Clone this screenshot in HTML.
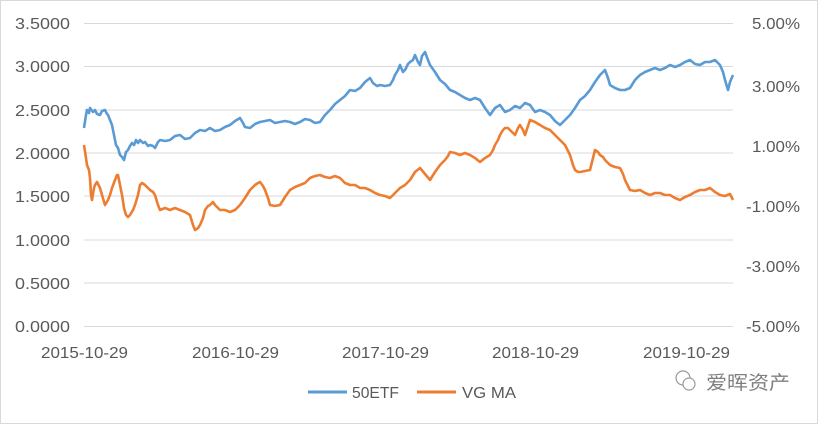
<!DOCTYPE html>
<html><head><meta charset="utf-8"><style>
body{margin:0;background:#fff}
svg{display:block}
text{font-family:"Liberation Sans","Noto Sans CJK SC",sans-serif;fill:#595959;font-size:16px}
</style></head><body>
<svg width="818" height="424" viewBox="0 0 818 424">
<rect x="0.5" y="0.5" width="817" height="423" fill="#fff" stroke="#d9d9d9"/>
<g stroke="#d9d9d9" stroke-width="1">
<line x1="84" x2="733" y1="23.5" y2="23.5"/><line x1="84" x2="733" y1="66.5" y2="66.5"/>
<line x1="84" x2="733" y1="110" y2="110"/><line x1="84" x2="733" y1="153" y2="153"/>
<line x1="84" x2="733" y1="196" y2="196"/><line x1="84" x2="733" y1="240" y2="240"/>
<line x1="84" x2="733" y1="283" y2="283"/><line x1="84" x2="733" y1="326.5" y2="326.5"/>
</g>
<g>
<text x="15" y="29" textLength="55" lengthAdjust="spacingAndGlyphs">3.5000</text><text x="15" y="72" textLength="55" lengthAdjust="spacingAndGlyphs">3.0000</text><text x="15" y="116" textLength="55" lengthAdjust="spacingAndGlyphs">2.5000</text>
<text x="15" y="159" textLength="55" lengthAdjust="spacingAndGlyphs">2.0000</text><text x="15" y="202" textLength="55" lengthAdjust="spacingAndGlyphs">1.5000</text><text x="15" y="246" textLength="55" lengthAdjust="spacingAndGlyphs">1.0000</text>
<text x="15" y="289" textLength="55" lengthAdjust="spacingAndGlyphs">0.5000</text><text x="15" y="332" textLength="55" lengthAdjust="spacingAndGlyphs">0.0000</text>
</g>
<g>
<text x="752" y="29" textLength="48" lengthAdjust="spacingAndGlyphs">5.00%</text><text x="752" y="92" textLength="48" lengthAdjust="spacingAndGlyphs">3.00%</text><text x="752" y="152" textLength="48" lengthAdjust="spacingAndGlyphs">1.00%</text>
<text x="746" y="212" textLength="54" lengthAdjust="spacingAndGlyphs">-1.00%</text><text x="746" y="272" textLength="54" lengthAdjust="spacingAndGlyphs">-3.00%</text><text x="746" y="332" textLength="54" lengthAdjust="spacingAndGlyphs">-5.00%</text>
</g>
<g>
<text x="41" y="358" textLength="87" lengthAdjust="spacingAndGlyphs">2015-10-29</text><text x="192" y="358" textLength="87" lengthAdjust="spacingAndGlyphs">2016-10-29</text><text x="342" y="358" textLength="87" lengthAdjust="spacingAndGlyphs">2017-10-29</text>
<text x="492" y="358" textLength="87" lengthAdjust="spacingAndGlyphs">2018-10-29</text><text x="643" y="358" textLength="87" lengthAdjust="spacingAndGlyphs">2019-10-29</text>
</g>
<polyline fill="none" stroke="#5b9bd5" stroke-width="2.6" stroke-linejoin="round" points="84,128 86,115 87,110 89,113 90,108 93,112 95,110 97,114 100,115 102,111 105,110 107,114 108,115 110,120 112,125 114,135 116,145 118,148 120,155 122,157 124,160 126,152 128,150 130,146 132,143 134,145 136,140 138,143 140,140 143,143 145,142 148,146 150,145 153,146 155,148 158,142 160,140 165,141 170,140 175,136 180,135 185,139 190,138 195,133 200,130 205,131 210,128 215,131 220,130 225,127 230,125 235,121 240,118 243,123 245,127 250,128 255,124 260,122 265,121 270,120 275,123 280,122 285,121 290,122 295,124 300,122 305,119 310,120 315,123 320,122 325,115 330,110 335,104 340,100 345,96 350,90 355,91 360,88 365,82 370,78 373,83 377,86 380,85 385,86 390,85 393,80 395,75 398,70 400,65 403,72 405,70 408,64 410,62 413,60 415,55 418,62 420,65 422,56 425,52 428,60 430,65 435,72 440,80 445,84 450,90 455,92 460,95 465,98 470,100 475,98 480,100 485,108 490,115 495,108 500,105 505,112 510,110 515,106 520,108 525,103 530,105 535,112 540,110 545,112 550,115 555,121 560,125 565,120 570,115 575,108 580,100 585,96 590,90 595,82 600,75 603,72 605,70 608,78 610,85 615,88 620,90 625,90 630,88 635,80 640,75 645,72 650,70 655,68 660,70 665,68 670,65 675,67 680,65 685,62 690,60 695,64 700,65 705,62 710,62 715,60 720,65 723,72 725,80 728,90 730,82 733,75"/>
<polyline fill="none" stroke="#ed7d31" stroke-width="2.6" stroke-linejoin="round" points="84,145 86,158 87,165 89,170 90,178 91,195 92,200 94,188 95,185 97,182 100,188 102,195 105,205 108,200 110,195 112,188 115,180 117,175 118,175 120,185 122,195 124,208 126,215 128,217 130,215 133,210 135,205 138,195 140,185 142,183 145,185 148,188 150,190 153,192 155,195 158,205 160,210 165,208 170,210 175,208 180,210 185,212 190,215 193,225 195,230 198,228 200,225 203,218 205,210 208,206 210,205 213,202 215,205 218,208 220,210 225,210 230,212 235,210 240,205 245,198 250,190 253,187 255,185 258,183 260,182 263,186 265,190 268,198 270,205 275,206 280,205 285,197 290,190 295,187 300,185 305,183 310,178 315,176 320,175 325,177 330,178 335,176 340,178 345,183 350,185 355,185 360,188 365,188 370,190 375,193 380,195 385,196 390,198 395,193 400,188 405,185 410,180 415,172 420,168 425,174 430,180 435,172 440,165 443,162 445,160 448,156 450,152 455,153 460,155 465,153 470,155 475,158 480,162 485,158 490,155 493,150 495,145 498,140 500,135 503,130 505,128 508,128 510,130 513,133 515,135 518,128 520,125 523,130 525,135 528,126 530,120 535,122 540,125 545,128 550,130 555,135 560,140 565,145 570,155 573,165 575,170 578,172 580,172 585,171 590,170 593,158 595,150 598,152 600,155 603,157 605,160 608,163 610,165 615,167 620,168 623,174 625,180 628,186 630,190 635,191 640,190 645,193 650,195 655,193 660,193 665,195 670,195 675,198 680,200 685,197 690,195 695,192 700,190 705,190 710,188 715,192 720,195 725,196 730,194 733,200"/>
<line x1="308" x2="347" y1="392" y2="392" stroke="#5b9bd5" stroke-width="3"/>
<text x="352" y="398" textLength="47" lengthAdjust="spacingAndGlyphs">50ETF</text>
<line x1="417" x2="456" y1="392" y2="392" stroke="#ed7d31" stroke-width="3"/>
<text x="462" y="398" textLength="54" lengthAdjust="spacingAndGlyphs">VG MA</text>
<g fill="none" stroke="#9a9a9a" stroke-width="1.2">
<circle cx="683" cy="378" r="7"/><circle cx="689" cy="384" r="6" fill="#fff"/>
</g>
<text x="706" y="389" style="fill:#7f7f7f;font-size:19px" textLength="84" lengthAdjust="spacingAndGlyphs">爱晖资产</text>
</svg>
</body></html>
